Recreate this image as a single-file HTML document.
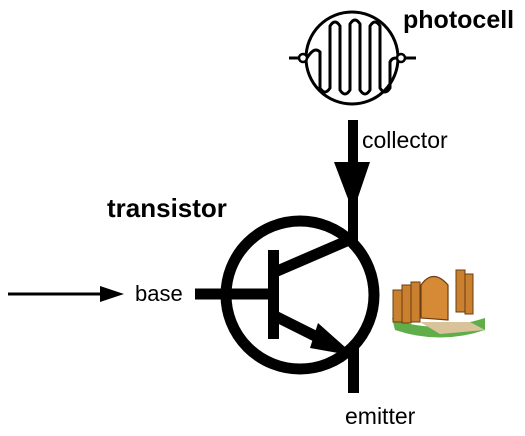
<!DOCTYPE html>
<html><head><style>
body{margin:0;background:#fff;width:525px;height:436px;overflow:hidden}
svg{display:block}
text{font-family:"Liberation Sans",sans-serif;fill:#000}
</style></head><body>
<svg width="525" height="436" viewBox="0 0 525 436">
<!-- photocell -->
<circle cx="352" cy="58" r="46" fill="none" stroke="#000" stroke-width="3"/>
<line x1="289" y1="58" x2="300" y2="58" stroke="#000" stroke-width="3"/>
<line x1="404" y1="58" x2="416" y2="58" stroke="#000" stroke-width="3"/>
<circle cx="303" cy="58" r="4" fill="#fff" stroke="#000" stroke-width="2.5"/>
<circle cx="401" cy="58" r="4" fill="#fff" stroke="#000" stroke-width="2.5"/>
<path d="M307 58 C312 50,316 48,320 52 L320 88 Q325 96,330 88 L330 26 Q335 18,340 26 L340 90 Q345 98,350 90 L350 24 Q355 16,360 24 L360 90 Q365 98,370 90 L370 26 Q375 18,380 26 L380 88 Q385 96,390 88 L390 62 C392 58,394 58,397 58" fill="none" stroke="#000" stroke-width="3"/>
<text x="403" y="28" font-size="25" font-weight="bold">photocell</text>
<!-- collector -->
<rect x="348" y="120" width="10" height="122" fill="#000"/>
<polygon points="334,162 370,162 353,212" fill="#000"/>
<text x="362" y="148" font-size="23">collector</text>
<text x="107" y="217" font-size="26" font-weight="bold">transistor</text>
<!-- transistor -->
<circle cx="300" cy="295" r="74" fill="none" stroke="#000" stroke-width="11"/>
<rect x="268" y="250" width="11" height="89" fill="#000"/>
<line x1="195" y1="294" x2="270" y2="294" stroke="#000" stroke-width="11"/>
<line x1="275" y1="272" x2="356" y2="237" stroke="#000" stroke-width="11"/>
<line x1="275" y1="316" x2="335" y2="346" stroke="#000" stroke-width="11"/>
<polygon points="318,323 355,356 310,348" fill="#000"/>
<rect x="348" y="345" width="11" height="48" fill="#000"/>
<text x="345" y="424" font-size="23">emitter</text>
<!-- base arrow -->
<line x1="8" y1="294" x2="105" y2="294" stroke="#000" stroke-width="3"/>
<polygon points="100,286 124,294 100,302" fill="#000"/>
<text x="135" y="301" font-size="22">base</text>
<!-- fence -->
<path d="M392 318 Q430 335 485 318 L485 330 Q440 345 395 330 Z" fill="#5fae4a"/>
<path d="M420 322 L470 322 L485 330 L440 334 Z" fill="#d9c39a"/>
<rect x="393" y="290" width="9" height="32" fill="#c9802f" stroke="#6b3d12" stroke-width="1"/>
<rect x="402" y="285" width="9" height="38" fill="#c9802f" stroke="#6b3d12" stroke-width="1"/>
<rect x="411" y="282" width="9" height="40" fill="#c9802f" stroke="#6b3d12" stroke-width="1"/>
<path d="M421 318 L421 285 Q433 268 448 285 L448 320 Z" fill="#d68a35" stroke="#6b3d12" stroke-width="1.2"/>
<rect x="456" y="270" width="9" height="42" fill="#c9802f" stroke="#6b3d12" stroke-width="1"/>
<rect x="465" y="274" width="8" height="40" fill="#c9802f" stroke="#6b3d12" stroke-width="1"/>
</svg>
</body></html>
